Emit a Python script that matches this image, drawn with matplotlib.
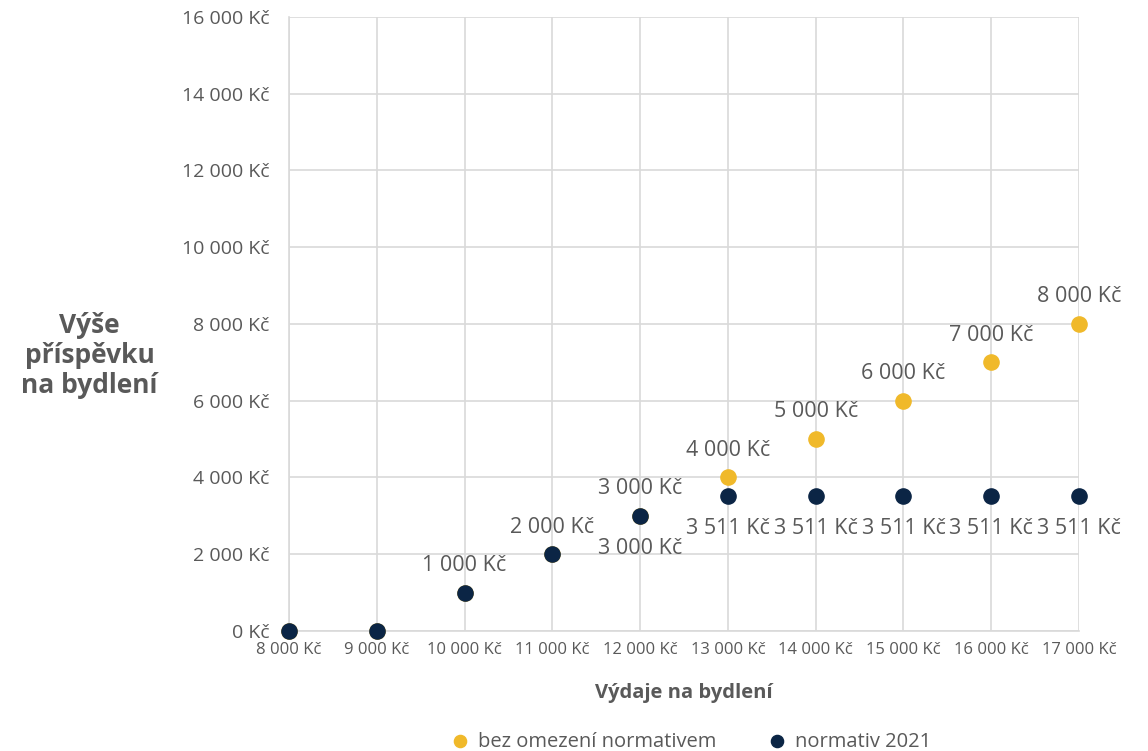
import matplotlib

matplotlib.use("Agg")
import matplotlib.pyplot as plt
from matplotlib.ticker import FuncFormatter, MultipleLocator

plt.rcParams["font.family"] = ["Open Sans", "DejaVu Sans"]

# data
vydaje = [8000, 9000, 10000, 11000, 12000, 13000, 14000, 15000, 16000, 17000]
bez_omezeni = [0, 0, 1000, 2000, 3000, 4000, 5000, 6000, 7000, 8000]
normativ_2021 = [0, 0, 1000, 2000, 3000, 3511, 3511, 3511, 3511, 3511]

YELLOW = "#F0B92A"
NAVY = "#0B2545"
GREY = "#595959"
GRID = "#D9D9D9"


def kc(v, pos=None):
    return f"{int(v):,} Kč".replace(",", " ")


fig = plt.figure(figsize=(11.48, 7.51), dpi=100)
ax = fig.add_axes([0.2517, 0.1598, 0.6882, 0.8176])

ax.scatter(vydaje, bez_omezeni, s=120, color=YELLOW, zorder=3,
           label="bez omezení normativem", clip_on=False)
ax.scatter(vydaje, normativ_2021, s=120, color=NAVY, zorder=4,
           label="normativ 2021", clip_on=False)

# data labels
for x, y in zip(vydaje, bez_omezeni):
    if y > 0:
        ax.annotate(kc(y), (x, y), xytext=(0, 12), textcoords="offset points",
                    ha="center", va="bottom", fontsize=15.5, color=GREY)
for x, y in zip(vydaje, normativ_2021):
    if y >= 3000:
        ax.annotate(kc(y), (x, y), xytext=(0, -16), textcoords="offset points",
                    ha="center", va="top", fontsize=15.5, color=GREY)

ax.set_xlim(8000, 17000)
ax.set_ylim(0, 16000)
ax.xaxis.set_major_locator(MultipleLocator(1000))
ax.yaxis.set_major_locator(MultipleLocator(2000))
ax.xaxis.set_major_formatter(FuncFormatter(kc))
ax.yaxis.set_major_formatter(FuncFormatter(kc))
ax.tick_params(axis="x", labelsize=12, colors=GREY, length=0, pad=8)
ax.tick_params(axis="y", labelsize=14, colors=GREY, length=0, pad=14)

ax.grid(True, color=GRID, linewidth=1.2, zorder=0)
ax.set_axisbelow(True)
for side in ["top", "right"]:
    ax.spines[side].set_visible(False)
ax.spines["left"].set_color(GRID)
ax.spines["left"].set_linewidth(1.2)
ax.spines["bottom"].set_color(GRID)
ax.spines["bottom"].set_linewidth(1.2)

ax.set_xlabel("Výdaje na bydlení", fontsize=14.5, fontweight="bold", color=GREY, labelpad=18)
fig.text(0.078, 0.527, "Výše\npříspěvku\nna bydlení", ha="center", va="center",
         fontsize=19, fontweight="bold", color=GREY, linespacing=1.15)

fig.legend(loc="lower center", bbox_to_anchor=(0.597, -0.025), ncol=2, frameon=False,
           fontsize=14.5, labelcolor=GREY, handletextpad=-0.1, columnspacing=2.0,
           markerscale=0.8)

plt.savefig("out.png", dpi=100)
plt.close()
